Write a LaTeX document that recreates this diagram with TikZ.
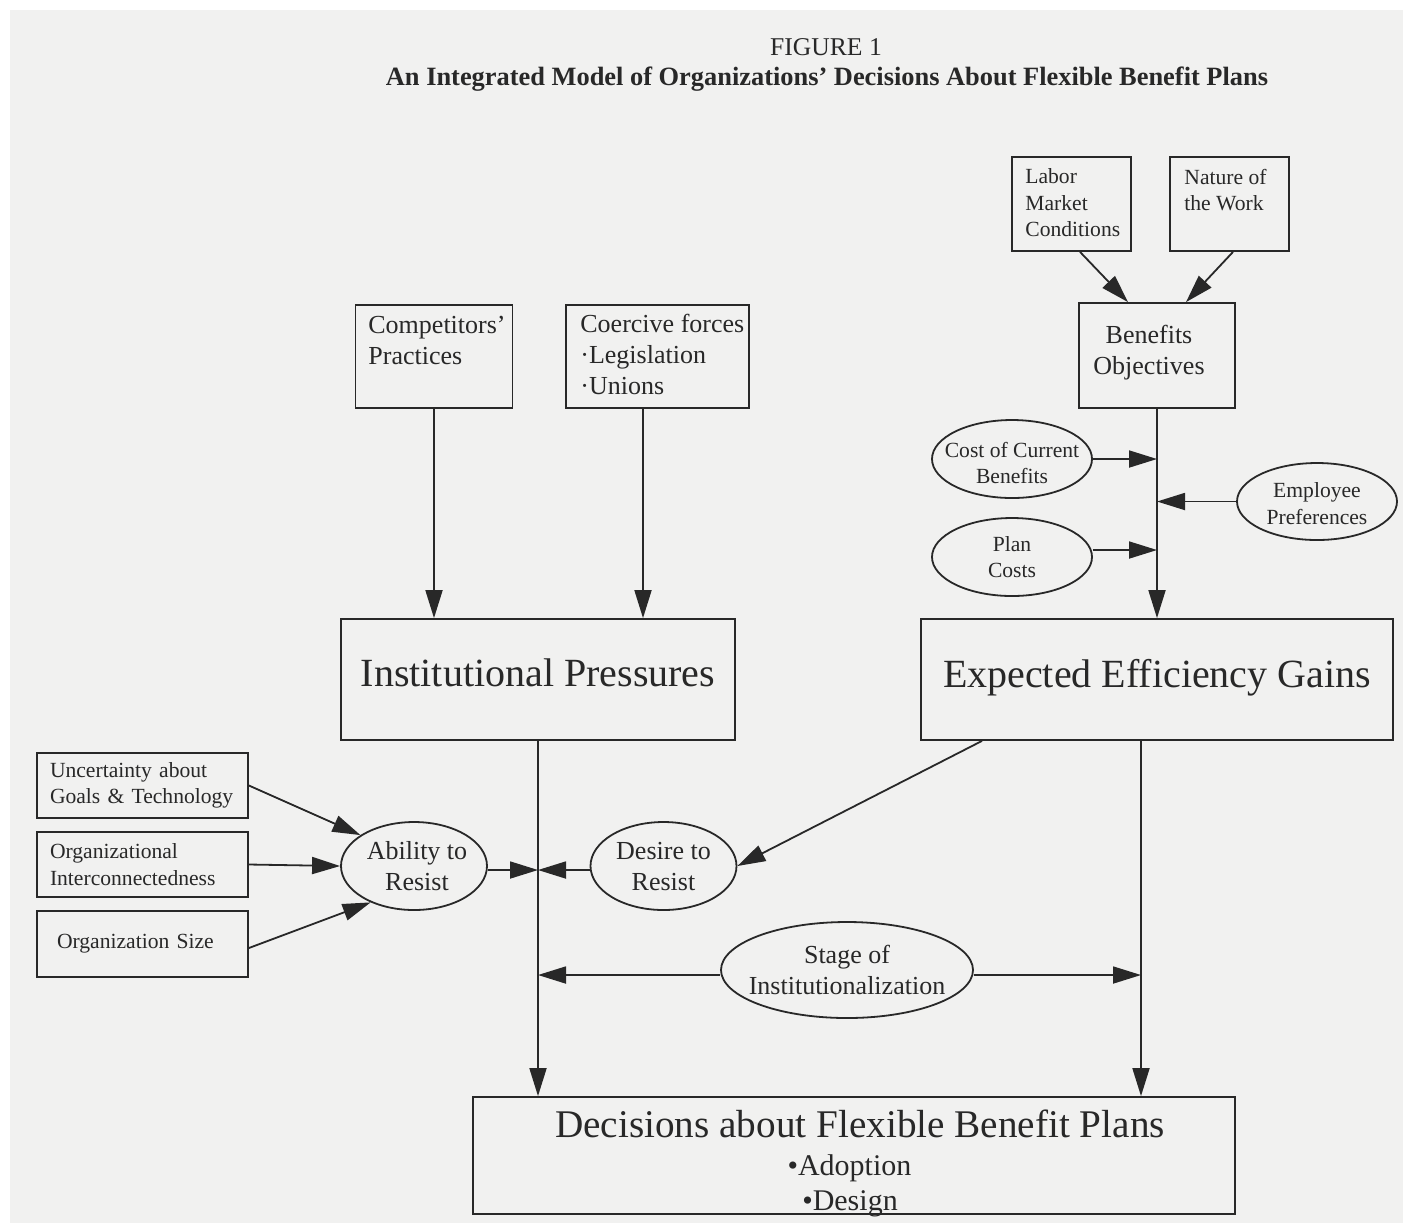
\documentclass[tikz,border=0pt]{standalone}
\usepackage{fontspec}
\setmainfont{Liberation Serif}
\usetikzlibrary{shapes.geometric,arrows.meta,calc}
\definecolor{bg}{RGB}{241,241,240}
\definecolor{ink}{RGB}{40,40,40}
\begin{document}
\begin{tikzpicture}[x=0.5pt,y=-0.5pt,
  box/.style={draw=ink,line width=0.9pt,rectangle,inner sep=0pt,text=ink},
  ell/.style={draw=ink,line width=0.9pt,ellipse,inner sep=0pt},
  arr/.style={draw=ink,line width=0.9pt,-{Triangle[length=14pt,width=8.5pt]}},
  txt/.style={inner sep=0pt,text=ink,align=left},
  big/.style={font=\fontsize{20}{24}\selectfont},
  mid/.style={font=\fontsize{13}{15.5}\selectfont},
  sml/.style={font=\fontsize{10.8}{13.2}\selectfont}]

\fill[white] (0,0) rectangle (1403,1223);
\fill[bg] (10,10) rectangle (1403,1223);
\useasboundingbox (0,0) rectangle (1403,1223);

% title
\node[txt,font=\fontsize{12.8}{15}\selectfont] (fig) at (826,47) {FIGURE 1};
\node[txt,font=\bfseries\fontsize{13.2}{15}\selectfont] (title) at (827,79) {An Integrated Model of Organizations’ Decisions About Flexible Benefit Plans};

% top boxes
\node[box,minimum width=78.5pt,minimum height=51.5pt] (comp) at (434,356.5) {};
\node[txt,mid,anchor=north west] (comptext) at (368,316) {Competitors’\\Practices};
\node[box,minimum width=91.5pt,minimum height=51.5pt] (coer) at (657.5,356.5) {};
\node[txt,mid,anchor=north west] (coertext) at (580,314) {Coercive forces\\·Legislation\\·Unions};

\node[box,minimum width=59.5pt,minimum height=47pt] (labor) at (1071.5,204) {};
\node[txt,sml,anchor=north west] (labortext) at (1025,168.5) {Labor\\Market\\Conditions};
\node[box,minimum width=59.5pt,minimum height=47pt] (nature) at (1229.5,204) {};
\node[txt,sml,anchor=north west] (naturetext) at (1184,168.5) {Nature of\\the Work};

\node[box,minimum width=78pt,minimum height=52.5pt] (benobj) at (1157,355.5) {};
\node[txt,mid,align=center] (benobjtext) at ([xshift=-4pt,yshift=1.5pt]benobj.center) {Benefits\\Objectives};

% ellipses right
\node[ell,minimum width=80pt,minimum height=39pt] (cost) at (1012,459) {};
\node[txt,sml,align=center] (costtext) at ([yshift=-2pt]cost.center) {Cost of Current\\Benefits};
\node[ell,minimum width=80pt,minimum height=38.5pt] (emp) at (1317,501.5) {};
\node[txt,sml,align=center] (emptext) at ([yshift=-1pt]emp.center) {Employee\\Preferences};
\node[ell,minimum width=80pt,minimum height=39pt] (plan) at (1012,557) {};
\node[txt,sml,align=center] (plantext) at (plan.center) {Plan\\Costs};

% main boxes
\node[box,big,text depth=6.5pt,minimum width=197pt,minimum height=60.5pt] (inst) at (538,679.5) {Institutional Pressures};
\node[box,big,text depth=6.5pt,minimum width=236pt,minimum height=60.5pt] (eeg) at (1157,679.5) {Expected Efficiency Gains};

% left boxes
\node[box,sml,align=left,text width=92.5pt,inner xsep=6.5pt,minimum height=32.5pt] (unc) at (142.5,785.5) {Uncertainty about\\Goals \& Technology};
\node[box,sml,align=left,text width=92.5pt,inner xsep=6.5pt,minimum height=32.5pt] (orgint) at (142.5,864.5) {Organizational\\Interconnectedness};
\node[box,sml,align=left,text width=85.5pt,inner xsep=10pt,minimum height=33pt] (orgsize) at (142.5,944) {Organization Size};

% resist ellipses
\node[ell,minimum width=73pt,minimum height=44pt] (ability) at (414,866) {};
\node[txt,mid,align=center] (abilitytext) at ([xshift=1.5pt]ability.center) {Ability to\\Resist};
\node[ell,minimum width=73pt,minimum height=44pt] (desire) at (663.5,866) {};
\node[txt,mid,align=center] (desiretext) at (desire.center) {Desire to\\Resist};

\node[ell,minimum width=126pt,minimum height=48pt] (stage) at (847,970) {};
\node[txt,mid,align=center] (stagetext) at (stage.center) {Stage of\\Institutionalization};

% decisions
\node[box,minimum width=381pt,minimum height=58.5pt] (dec) at (854,1155.5) {};
\node[txt,anchor=base,font=\fontsize{19.6}{23}\selectfont] (dectitle) at (860,1137) {Decisions about Flexible Benefit Plans};
\node[txt,anchor=base,font=\fontsize{15}{18}\selectfont] (decadopt) at (849.5,1175) {•Adoption};
\node[txt,anchor=base,font=\fontsize{15}{18}\selectfont] (decdesign) at (850,1210) {•Design};

% connectors
\coordinate (coerout) at ([xshift=-7.25pt]coer.south);
\coordinate (eegout) at ([xshift=-8pt]eeg.south);
\coordinate (eegleft) at ([xshift=-87.5pt]eeg.south);
\coordinate (planout) at ([yshift=3.5pt]plan.east);
\coordinate (stagel) at ([yshift=-2.5pt]stage.west);
\coordinate (stager) at ([yshift=-2.5pt]stage.east);
\coordinate (abl) at ([yshift=-2pt]ability.east);
\coordinate (des) at ([yshift=-2pt]desire.west);
\coordinate (osz) at ([yshift=-2pt]orgsize.east);

\draw[arr] (comp.south) -- (comp.south |- inst.north);
\draw[arr] (coerout) -- (coerout |- inst.north);
\draw[arr] ([xshift=4.25pt]labor.south) -- ([xshift=-14.5pt]benobj.north);
\draw[arr] ([xshift=1.75pt]nature.south) -- ([xshift=14.5pt]benobj.north);
\draw[arr] (benobj.south) -- (eeg.north);
\draw[arr] (cost.east) -- (cost.east -| benobj.south);
\draw[arr] (emp.west) -- (emp.west -| benobj.south);
\draw[arr] (planout) -- (planout -| benobj.south);

\draw[arr] (inst.south) -- (inst.south |- dec.north);
\draw[arr] (eegout) -- (eegout |- dec.north);
\draw[arr] (eegleft) -- (desire.east);
\draw[arr] (abl) -- (abl -| inst.south);
\draw[arr] (des) -- (des -| inst.south);
\draw[arr] (unc.east) -- (ability.150);
\draw[arr] (orgint.east) -- (ability.west);
\draw[arr] (osz) -- (ability.220);
\draw[arr] (stagel) -- (stagel -| inst.south);
\draw[arr] (stager) -- (stager -| eegout);
\end{tikzpicture}
\end{document}
